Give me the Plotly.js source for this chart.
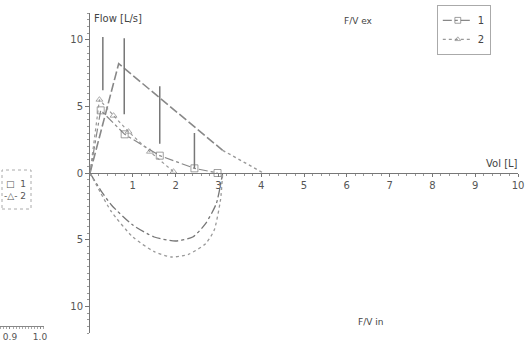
<!DOCTYPE html>
<html><head><meta charset="utf-8">
<script src="https://cdn.plot.ly/plotly-3.0.1.min.js"></script>
<style>html,body{margin:0;padding:0;background:#fff}#chart{width:525px;height:345px}</style>
</head><body><div id="chart"></div>
<script>
// ---- data ----
// predicted expiratory curve (long dash) and its dotted tail
const predVol = [0, 0.67, 3.1];
const predFlow = [0, 8.2, 1.7];
const predTailVol = [3.1, 4.05];
const predTailFlow = [1.7, 0];
// predicted ranges (vertical bars)
const rangeVol = [0.3, 0.8, 1.63, 2.44];
const rangeLow = [6.2, 4.4, 2.2, 0.35];
const rangeHigh = [10.2, 10.1, 6.5, 3.0];
// measured expiratory curves
const exp1Vol = [0, 0.25, 0.81, 1.63, 2.44, 2.98];
const exp1Flow = [0, 4.7, 2.9, 1.3, 0.35, 0];
const exp2Vol = [0, 0.22, 0.55, 0.9, 1.4, 1.95];
const exp2Flow = [0, 5.5, 4.3, 3.1, 1.6, 0.1];
// inspiratory curves
const insp1Vol = [0, 0.25, 0.5, 1.0, 1.5, 2.0, 2.4, 2.7, 2.95, 3.1];
const insp1Flow = [0, -1.3, -2.4, -3.9, -4.8, -5.1, -4.8, -3.8, -2.3, 0];
const insp2Vol = [0, 0.25, 0.5, 1.0, 1.5, 1.9, 2.3, 2.7, 2.9, 3.05, 3.1];
const insp2Flow = [0, -1.5, -2.9, -4.8, -5.9, -6.3, -6.1, -5.3, -4.3, -2.0, 0];
// ticks
const xTickVals = [1, 2, 3, 4, 5, 6, 7, 8, 9, 10];
const yTickVals = [-10, -5, 0, 5, 10];
const yTickText = ["10", "5", "0", "5", "10"];
const seriesNames = ["1", "2"];

const font = {family: "DejaVu Sans, Verdana, sans-serif", size: 9, color: "#555"};
const traces = [
  {x: predVol, y: predFlow, mode: "lines", line: {color: "#888", width: 1.6, dash: "9px,3px"}, showlegend: false, hoverinfo: "skip"},
  {x: predTailVol, y: predTailFlow, mode: "lines", line: {color: "#999", width: 1.4, dash: "dot"}, showlegend: false, hoverinfo: "skip"},
  {x: rangeVol, y: rangeLow, mode: "markers", marker: {size: 1, opacity: 0}, showlegend: false, hoverinfo: "skip",
   error_y: {type: "data", symmetric: false, array: rangeHigh.map((h, i) => h - rangeLow[i]), arrayminus: rangeLow.map(() => 0), width: 0, thickness: 1.5, color: "#777"}},
  {x: insp1Vol, y: insp1Flow, mode: "lines", line: {color: "#777", width: 1.3, dash: "dashdot", shape: "spline", smoothing: 0.6}, showlegend: false, hoverinfo: "skip"},
  {x: insp2Vol, y: insp2Flow, mode: "lines", line: {color: "#999", width: 1.3, dash: "dot", shape: "spline", smoothing: 0.6}, showlegend: false, hoverinfo: "skip"},
  {x: exp1Vol, y: exp1Flow, name: seriesNames[0], mode: "lines+markers", line: {color: "#888", width: 1.2, dash: "dashdot"},
   marker: {symbol: "square-open", size: exp1Vol.map((v, i) => i === 0 ? 0 : 7), color: "#777", line: {width: 1}}},
  {x: exp2Vol, y: exp2Flow, name: seriesNames[1], mode: "lines+markers", line: {color: "#999", width: 1.2, dash: "dot"},
   marker: {symbol: "triangle-up-open", size: exp2Vol.map((v, i) => i === 0 ? 0 : 6), color: "#888", line: {width: 1}}},
  {x: [], y: [], xaxis: "x2", yaxis: "y2", showlegend: false}
];

const layout = {
  width: 525, height: 345,
  margin: {l: 0, r: 0, t: 0, b: 0},
  paper_bgcolor: "#fff", plot_bgcolor: "rgba(0,0,0,0)",
  font: font,
  showlegend: true,
  legend: {x: 0.832, y: 0.986, xanchor: "left", yanchor: "top", bordercolor: "#aaa", borderwidth: 1,
           font: {family: "DejaVu Sans, sans-serif", size: 10, color: "#444"}, itemwidth: 30, tracegroupgap: 0, bgcolor: "#fff"},
  xaxis: {domain: [90 / 525, 518 / 525], range: [0, 10], anchor: "free", position: 1 - 173 / 345,
          showline: true, linecolor: "#777", linewidth: 1, showgrid: false, zeroline: false,
          tickvals: xTickVals, ticks: "outside", ticklen: 3, tickcolor: "#777", tickfont: {size: 10, color: "#555"},
          minor: {dtick: 0.2, ticks: "outside", ticklen: 2, tickcolor: "#999", showgrid: false}},
  yaxis: {domain: [1 - 333 / 345, 1 - 13 / 345], range: [-12, 12], anchor: "x",
          showline: true, linecolor: "#777", linewidth: 1, showgrid: false, zeroline: false,
          tickvals: yTickVals, ticktext: yTickText, ticks: "outside", ticklen: 4, tickcolor: "#777", tickfont: {size: 10, color: "#555"},
          minor: {dtick: 0.5, ticks: "outside", ticklen: 2, tickcolor: "#999", showgrid: false}},
  xaxis2: {domain: [0, 44 / 525], range: [0.8667, 1.0133], anchor: "free", position: 1 - 326 / 345,
           showline: true, linecolor: "#888", showgrid: false, zeroline: false, tickvals: [0.9, 1.0], ticktext: ["0.9", "1.0"],
           ticks: "outside", ticklen: 2, tickcolor: "#888", tickfont: {size: 9, color: "#555"},
           minor: {dtick: 0.01, ticks: "outside", ticklen: 2, tickcolor: "#aaa"}},
  yaxis2: {domain: [0.05, 0.06], anchor: "x2", visible: false, range: [0, 1]},
  annotations: [
    {text: "Flow [L/s]", xref: "paper", yref: "paper", x: 92 / 525, y: 1 - 18 / 345, xanchor: "left", yanchor: "middle", showarrow: false, font: {size: 10, color: "#444"}},
    {text: "F/V ex", xref: "paper", yref: "paper", x: 358 / 525, y: 1 - 21 / 345, xanchor: "center", yanchor: "middle", showarrow: false, font: {size: 9, color: "#444"}},
    {text: "Vol [L]", xref: "paper", yref: "paper", x: 520 / 525, y: 1 - 163 / 345, xanchor: "right", yanchor: "middle", showarrow: false, font: {size: 10, color: "#444"}},
    {text: "F/V in", xref: "paper", yref: "paper", x: 370 / 525, y: 1 - 322 / 345, xanchor: "center", yanchor: "middle", showarrow: false, font: {size: 9, color: "#444"}},
    {text: "□  1<br>-△- 2", xref: "paper", yref: "paper", x: 28 / 525, y: 1 - 190 / 345, xanchor: "right", yanchor: "middle", align: "right", showarrow: false, font: {size: 9, color: "#555"}}
  ],
  shapes: [
    {type: "rect", xref: "paper", yref: "paper", x0: 2 / 525, x1: 31 / 525, y0: 1 - 209 / 345, y1: 1 - 170 / 345, line: {color: "#aaa", width: 1, dash: "dot"}}
  ]
};
Plotly.newPlot("chart", traces, layout, {staticPlot: true, displayModeBar: false});
</script></body></html>
